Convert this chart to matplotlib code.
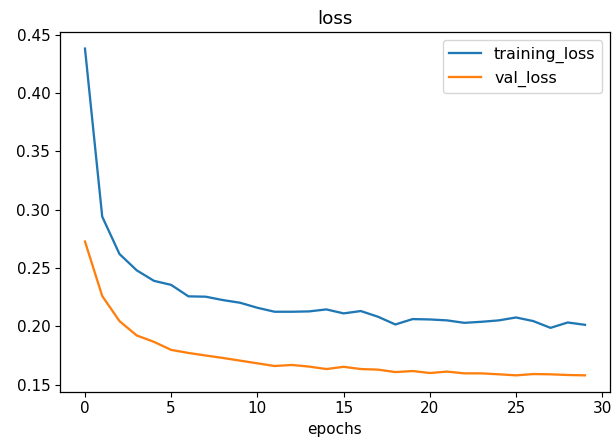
import matplotlib
matplotlib.use("Agg")
import matplotlib.pyplot as plt

epochs = list(range(30))
training_loss = [0.438, 0.294, 0.262, 0.248, 0.239, 0.2355, 0.2257, 0.2254, 0.2225, 0.2202,
                 0.2159, 0.2125, 0.2125, 0.2128, 0.2145, 0.2111, 0.2131, 0.2082, 0.2016, 0.2062,
                 0.2059, 0.2051, 0.2030, 0.2039, 0.2051, 0.2076, 0.2045, 0.1987, 0.2033, 0.2013]
val_loss = [0.2727, 0.2260, 0.2045, 0.1922, 0.1867, 0.1798, 0.1772, 0.1750, 0.1729, 0.1706,
            0.1683, 0.1660, 0.1669, 0.1655, 0.1634, 0.1653, 0.1634, 0.1629, 0.1608, 0.1617,
            0.1600, 0.1612, 0.1597, 0.1597, 0.1589, 0.1580, 0.1591, 0.1589, 0.1583, 0.1580]

plt.rcParams.update({
    "font.size": 11,
    "axes.titlesize": 13.2,
    "lines.linewidth": 1.65,
    "axes.linewidth": 0.9,
})

fig = plt.figure(figsize=(6.12, 4.48), dpi=100)
ax = fig.add_axes([0.098, 0.1257, 0.8987, 0.8023])
ax.plot(epochs, training_loss, label="training_loss")
ax.plot(epochs, val_loss, label="val_loss")
ax.set_title("loss")
ax.set_xlabel("epochs")
ax.legend(fontsize=11.5)
fig.savefig("out.png", dpi=100)
